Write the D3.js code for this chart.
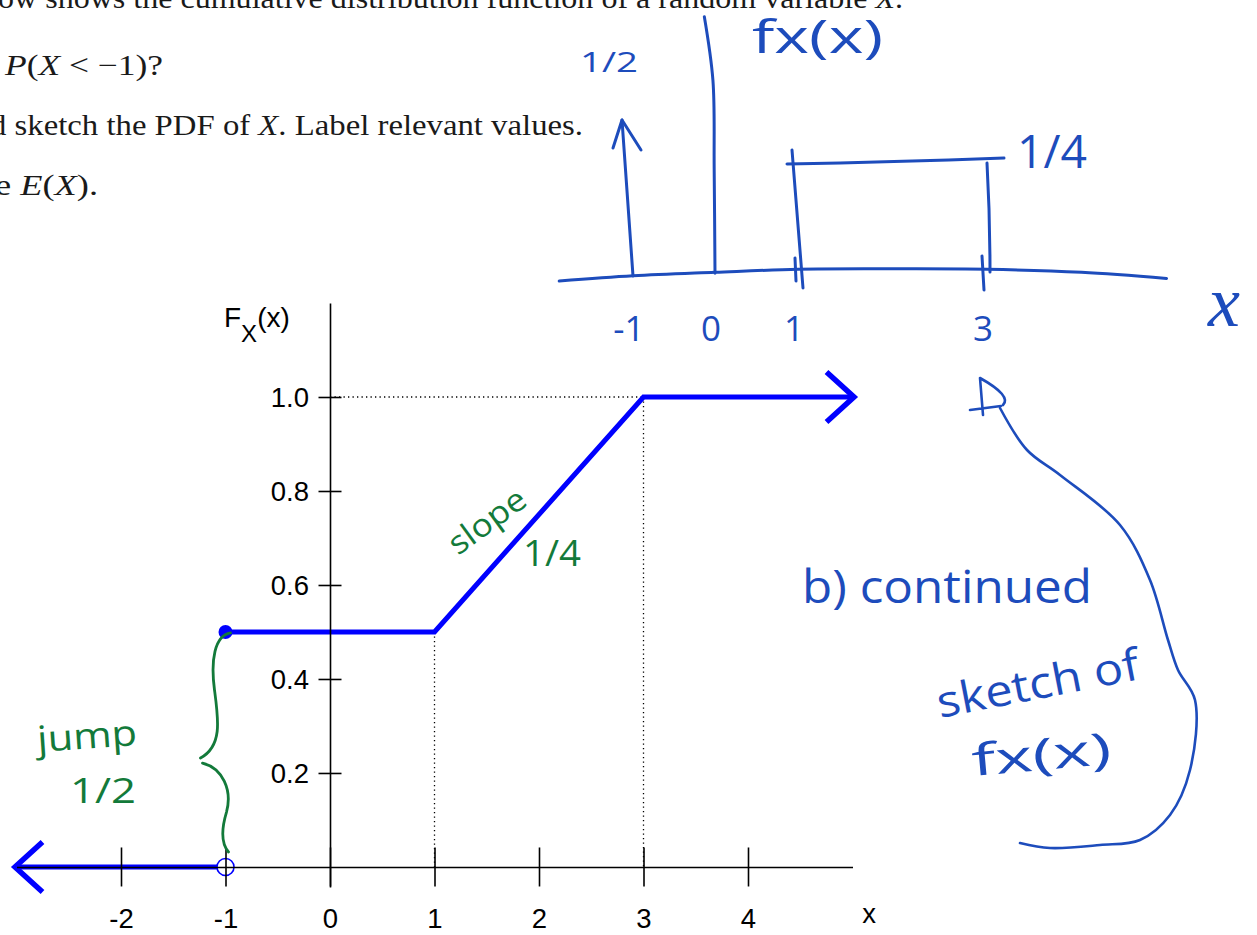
<!DOCTYPE html>
<html>
<head>
<meta charset="utf-8">
<script src="https://cdn.jsdelivr.net/npm/d3@7"></script>
<style>
  html, body { margin: 0; padding: 0; background: #fff; }
  svg { display: block; }
</style>
</head>
<body>
<script>
// ---- CDF of X ----
const xTicks = [-2, -1, 0, 1, 2, 3, 4];
const xTickLabels = ["-2", "-1", "0", "1", "2", "3", "4"];
const yTicks = [0.2, 0.4, 0.6, 0.8, 1.0];
const yTickLabels = ["0.2", "0.4", "0.6", "0.8", "1.0"];
const cdfLowX = [-3, -1];          // F = 0 for x < -1
const cdfLowY = [0, 0];
const cdfHighX = [-1, 1, 3, 5];    // F from the jump onward
const cdfHighY = [0.5, 0.5, 1, 1];
const jumpAt = -1;
const jumpFrom = 0;
const jumpTo = 0.5;
const guideX = [1, 3];             // dotted drop lines
const guideXTop = [0.5, 1.0];
const guideYLevel = 1.0;           // dotted level line
const guideYEnd = 3;

// ---- hand sketch of the PDF ----
const pdfTickValues = [-1, 0, 1, 3];
const pdfTickLabels = ["-1", "0", "1", "3"];
const pointMassAt = -1;
const pointMass = 0.5;
const uniformRange = [1, 3];
const uniformDensity = 0.25;
const sketchAxisX = [-1.9, -1, 0, 1, 2, 3, 4, 4.9];
const sketchAxisDrift = [-0.023, -0.011, -0.003, 0.004, 0.005, 0.004, -0.003, -0.017];

const W = 1257, H = 935;
const svg = d3.select("body").append("svg").attr("width", W).attr("height", H);

const BLUE = "#0000ff";
const INK_BLUE = "#1d4cbc";
const INK_GREEN = "#137a3a";
const SANS = "'Liberation Sans', Arial, Helvetica, sans-serif";
const SERIF = "'Liberation Serif', 'DejaVu Serif', serif";
const HAND = "'Open Sans', 'Noto Sans', sans-serif";

// ---------- printed question text ----------
const qText = svg.append("g").attr("font-family", SERIF).attr("font-size", 29).attr("fill", "#1a1a1a");
function serifLine(x, y, len, parts) {
  const t = qText.append("text").attr("x", x).attr("y", y)
    .attr("textLength", len).attr("lengthAdjust", "spacingAndGlyphs");
  parts.forEach(p => {
    const s = t.append("tspan").text(p[0]);
    if (p[1]) s.attr("font-style", "italic");
  });
}
serifLine(-2, 8, 905, [["ow shows the cumulative distribution function of a random variable "], ["X", 1], ["."]]);
serifLine(5, 75, 158, [["P", 1], ["("], ["X", 1], [" < \u22121)?"]]);
serifLine(-10, 135, 593, [["d sketch the PDF of "], ["X", 1], [". Label relevant values."]]);
serifLine(-5, 195, 103, [["e "], ["E", 1], ["("], ["X", 1], [")."]]);

// ---------- CDF plot ----------
const x = d3.scaleLinear().domain([-3, 5]).range([16.5, 852.5]);
const y = d3.scaleLinear().domain([-0.0426, 1.2]).range([887, 303]);

const line = d3.line().x(d => x(d[0])).y(d => y(d[1]));

// dotted guide lines
const guides = svg.append("g").attr("stroke", "#000").attr("stroke-width", 1.3)
  .attr("stroke-dasharray", "1.3,3.2").attr("fill", "none");
guideX.forEach((gx, i) => {
  guides.append("line").attr("x1", x(gx)).attr("x2", x(gx))
    .attr("y1", y(guideXTop[i])).attr("y2", y(0));
});
guides.append("line").attr("x1", x(0)).attr("x2", x(guideYEnd))
  .attr("y1", y(guideYLevel)).attr("y2", y(guideYLevel));

// CDF segments
const cdf = svg.append("g").attr("stroke", BLUE).attr("stroke-width", 5).attr("fill", "none")
  .attr("stroke-linejoin", "miter");
cdf.append("path").attr("d", line(cdfLowX.map((v, i) => [v, cdfLowY[i]])));
cdf.append("path").attr("d", line(cdfHighX.map((v, i) => [v, cdfHighY[i]])));

// open-chevron arrowheads at both ends
function chevron(tx, ty, dir) {
  return `M${tx - dir * 26},${ty - 25}L${tx + dir * 1.5},${ty}L${tx - dir * 26},${ty + 25}`;
}
cdf.append("path").attr("stroke-width", 5.5)
  .attr("d", chevron(x(cdfHighX[cdfHighX.length - 1]), y(cdfHighY[cdfHighY.length - 1]), 1));
cdf.append("path").attr("stroke-width", 5.5)
  .attr("d", chevron(x(cdfLowX[0]), y(cdfLowY[0]), -1));

// jump endpoints: open at F=0, closed at F=0.5
svg.append("circle").attr("cx", x(jumpAt)).attr("cy", y(jumpFrom)).attr("r", 8.5)
  .attr("fill", "#fff").attr("stroke", BLUE).attr("stroke-width", 1.6);
svg.append("circle").attr("cx", x(jumpAt)).attr("cy", y(jumpTo)).attr("r", 7)
  .attr("fill", BLUE);

// axes (drawn over the curve)
const xAxis = svg.append("g").attr("transform", `translate(0,${y(0)})`)
  .call(d3.axisBottom(x).tickValues(xTicks).tickFormat((d, i) => xTickLabels[i])
    .tickSize(19.5).tickSizeOuter(0));
xAxis.selectAll(".tick line").attr("y1", -19.5).attr("y2", 19.5);
xAxis.selectAll(".tick text").attr("y", 61).attr("dy", 0);
const yAxis = svg.append("g").attr("transform", `translate(${x(0)},0)`)
  .call(d3.axisLeft(y).tickValues(yTicks).tickFormat((d, i) => yTickLabels[i])
    .tickSize(11.5).tickSizeOuter(0));
yAxis.selectAll(".tick line").attr("x1", -11.5).attr("x2", 11.5);
yAxis.selectAll(".tick text").attr("x", -21).attr("dy", "0.36em");
[xAxis, yAxis].forEach(g => {
  g.select(".domain").attr("stroke", "#000").attr("stroke-width", 1.6);
  g.selectAll(".tick line").attr("stroke", "#000").attr("stroke-width", 1.6);
  g.selectAll(".tick text").attr("font-family", SANS).attr("font-size", 27.5).attr("fill", "#000");
});

// axis titles
svg.append("text").attr("x", 869).attr("y", 923).attr("text-anchor", "middle")
  .attr("font-family", SANS).attr("font-size", 27.5).text("x");
const fy = svg.append("text").attr("x", 224).attr("y", 327)
  .attr("font-family", SANS).attr("font-size", 28);
fy.append("tspan").text("F");
fy.append("tspan").attr("dy", 15).attr("font-size", 24).text("X");
fy.append("tspan").attr("dy", -15).text("(x)");

// ---------- green notes on the CDF ----------
const green = svg.append("g").attr("stroke", INK_GREEN).attr("stroke-width", 2.8)
  .attr("fill", "none").attr("stroke-linecap", "round");
// brace spanning the jump
{
  const bx = x(jumpAt), top = y(jumpTo), bot = y(jumpFrom);
  const mid = top + (bot - top) * 0.545;
  const p = d3.path();
  p.moveTo(bx + 5, top + 1);
  p.bezierCurveTo(bx - 11, top + 4, bx - 15, top + 28, bx - 11, top + 58);
  p.bezierCurveTo(bx - 7, top + 88, bx - 3, mid - 14, bx - 25, mid - 2);
  p.moveTo(bx - 23, mid + 3);
  p.bezierCurveTo(bx - 3, mid + 8, bx + 7, mid + 30, bx + 1, mid + 52);
  p.bezierCurveTo(bx - 5, mid + 72, bx - 3, bot - 22, bx + 3, bot - 15);
  green.append("path").attr("d", p.toString());
}
const gText = svg.append("g").attr("fill", INK_GREEN).attr("font-family", HAND);
gText.append("text").attr("transform", "translate(458,556) rotate(-36)")
  .attr("font-size", 32).attr("textLength", 88).attr("lengthAdjust", "spacingAndGlyphs").text("slope");
gText.append("text").attr("x", 523).attr("y", 566).attr("font-size", 36)
  .attr("textLength", 58).attr("lengthAdjust", "spacingAndGlyphs").text("1/4");
gText.append("text").attr("transform", "translate(38,752) rotate(-4)")
  .attr("font-size", 36).attr("textLength", 100).attr("lengthAdjust", "spacingAndGlyphs").text("jump");
gText.append("text").attr("x", 70).attr("y", 803).attr("font-size", 34)
  .attr("textLength", 66).attr("lengthAdjust", "spacingAndGlyphs").text("1/2");

// ---------- hand sketch of f_X(x) ----------
const sx = d3.scaleLinear().domain([-1, 0, 1, 3]).range([633, 715, 798, 987]);
const sy = d3.scaleLinear().domain([0, 0.25, 0.5]).range([271, 161, 120]);
const ink = svg.append("g").attr("stroke", INK_BLUE).attr("stroke-width", 3)
  .attr("fill", "none").attr("stroke-linecap", "round").attr("stroke-linejoin", "round");

// horizontal axis
ink.append("path").attr("d", d3.line().curve(d3.curveCatmullRom)
  .x(d => sx(d[0])).y(d => sy(d[1]))(sketchAxisX.map((v, i) => [v, sketchAxisDrift[i]])));
// vertical axis at 0
ink.append("path").attr("d", d3.line().curve(d3.curveCatmullRom)
  .x(d => sx(d[0])).y(d => sy(d[1]))([[0, -0.005], [-0.01, 0.23], [-0.025, 0.74], [-0.13, 1.13]]));
// point mass arrow
{
  const bx = sx(pointMassAt), tx = bx - 11, ty = sy(pointMass);
  ink.append("path").attr("d", `M${bx},${sy(0) + 5}L${tx},${ty}`);
  ink.append("path").attr("d", `M${tx - 9},${ty + 28}L${tx},${ty}L${tx + 19},${ty + 30}`);
}
// uniform block
{
  const l = sx(uniformRange[0]), r = sx(uniformRange[1]);
  const t = sy(uniformDensity), b = sy(0);
  ink.append("path").attr("d", `M${l - 6},${t - 11}L${l + 5},${b + 17}`);
  ink.append("path").attr("d", `M${l - 3},${b - 13}L${l - 2},${b + 10}`);
  ink.append("path").attr("d", `M${l - 11},${t + 3}Q${(l + r) / 2},${t + 1} ${r + 17},${t - 3}`);
  ink.append("path").attr("d", `M${r},${t + 2}Q${r + 3},${(t + b) / 2} ${r + 3},${b + 1}`);
  ink.append("path").attr("d", `M${r - 5},${b - 15}L${r - 3},${b + 19}`);
}
const bText = svg.append("g").attr("fill", INK_BLUE).attr("font-family", HAND);
bText.selectAll("text.pt").data(pdfTickValues).join("text").attr("class", "pt")
  .attr("x", d => sx(d) - 4).attr("y", 341).attr("text-anchor", "middle").attr("font-size", 35)
  .text((d, i) => pdfTickLabels[i]);
bText.append("text").attr("x", 580).attr("y", 72).attr("font-size", 27)
  .attr("textLength", 58).attr("lengthAdjust", "spacingAndGlyphs").text("1/2");
bText.append("text").attr("x", 1017).attr("y", 168).attr("font-size", 46)
  .attr("textLength", 70).attr("lengthAdjust", "spacingAndGlyphs").text("1/4");
bText.append("text").attr("x", 752).attr("y", 53).attr("font-size", 46)
  .attr("textLength", 131).attr("lengthAdjust", "spacingAndGlyphs").text("fx(x)");
bText.append("text").attr("x", 1208).attr("y", 326).attr("font-size", 72)
  .attr("font-family", SERIF).attr("font-style", "italic").text("x");

// "b) continued" note with looping arrow
bText.append("text").attr("x", 802).attr("y", 603).attr("font-size", 46)
  .attr("textLength", 290).attr("lengthAdjust", "spacingAndGlyphs").text("b) continued");
bText.append("text").attr("transform", "translate(940,718) rotate(-11)")
  .attr("font-size", 44).attr("textLength", 205).attr("lengthAdjust", "spacingAndGlyphs").text("sketch of");
bText.append("text").attr("transform", "translate(973,776) rotate(-5)")
  .attr("font-size", 44).attr("textLength", 140).attr("lengthAdjust", "spacingAndGlyphs").text("fx(x)");

const loop = [[1020, 843], [1050, 848], [1100, 845], [1140, 840], [1170, 815], [1190, 770],
  [1195, 700], [1178, 670], [1168, 640], [1150, 580], [1120, 525], [1060, 475], [1027, 450], [1000, 408]];
const ink2 = svg.append("g").attr("stroke", INK_BLUE).attr("stroke-width", 2.6)
  .attr("fill", "none").attr("stroke-linecap", "round").attr("stroke-linejoin", "round");
ink2.append("path").attr("d", d3.line().curve(d3.curveCatmullRom)(loop));
ink2.append("path").attr("d", "M980,378L983,415M970,410L1001,406M980,378Q1012,396 1003,405");
</script>
</body>
</html>
